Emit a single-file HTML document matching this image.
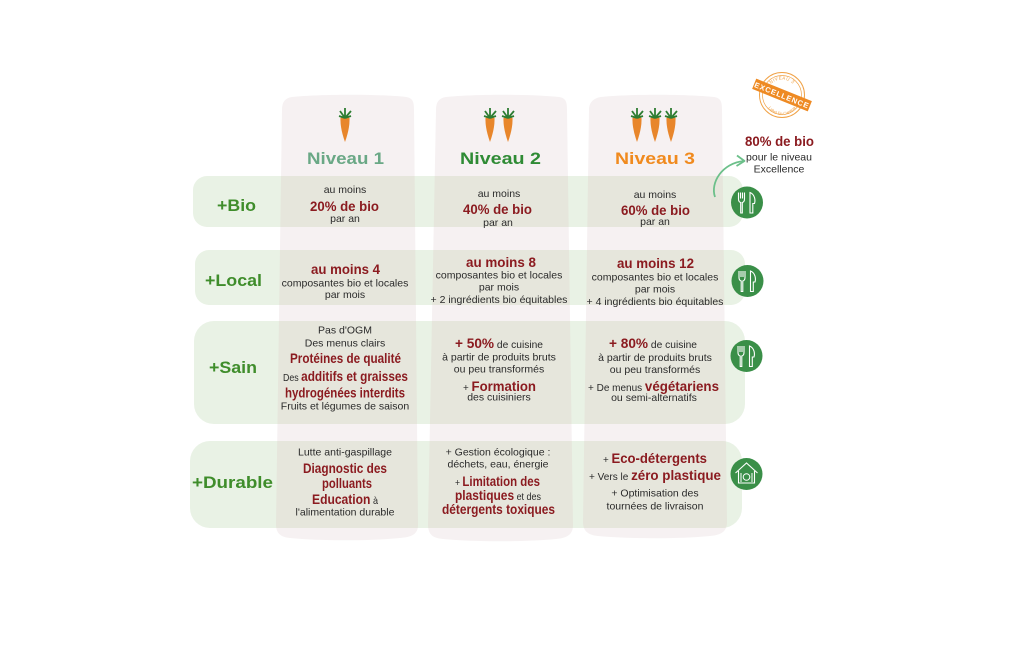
<!DOCTYPE html>
<html><head><meta charset="utf-8"><style>
html,body{margin:0;padding:0;background:#fff;width:1024px;height:650px;overflow:hidden}
svg{display:block}
.s{font-size:10.5px;fill:#2a2a2a;text-anchor:middle}
.r{font-size:14px;font-weight:bold;fill:#8b1b20;text-anchor:middle}
.rt{font-size:14px;font-weight:bold;fill:#8b1b20}
.st{font-size:10.5px;font-weight:normal;fill:#2a2a2a}
.lab{font-size:17px;font-weight:bold;fill:#3f8d2b;text-anchor:middle}
.h{font-size:16.5px;font-weight:bold;text-anchor:middle}
</style></head><body>
<svg width="1024" height="650" viewBox="0 0 1024 650" font-family="'Liberation Sans', Arial, sans-serif">
<defs>
<clipPath id="cols">
<path d="M292 97 C320 94,380 94,406 97 C413 98,414 102,414 110 L418 525 C418 534,412 537,400 538 C370 541,320 541,290 538 C280 537,276 533,276 524 L282 110 C282 102,285 98,292 97Z"/>
<path d="M446 97 C475 94,530 94,559 97 C566 98,567 102,567 110 L573 525 C573 534,568 538,556 539 C525 542,475 542,443 539 C432 538,428 534,428 524 L436 110 C436 102,439 98,446 97Z"/>
<path d="M601 97 C630 94,685 94,714 97 C721 98,722 102,722 110 L727 522 C727 531,722 535,710 536 C680 539,630 539,598 536 C588 535,583 531,583 522 L589 110 C589 102,594 98,601 97Z"/>
</clipPath>
<path id="arcTop" d="M-15.5 0 A15.5 15.5 0 0 1 15.5 0"/>
<path id="arcBot" d="M-17 0 A17 17 0 0 0 17 0"/>
</defs>

<!-- columns -->
<g fill="#f6f1f2">
<path d="M292 97 C320 94,380 94,406 97 C413 98,414 102,414 110 L418 525 C418 534,412 537,400 538 C370 541,320 541,290 538 C280 537,276 533,276 524 L282 110 C282 102,285 98,292 97Z"/>
<path d="M446 97 C475 94,530 94,559 97 C566 98,567 102,567 110 L573 525 C573 534,568 538,556 539 C525 542,475 542,443 539 C432 538,428 534,428 524 L436 110 C436 102,439 98,446 97Z"/>
<path d="M601 97 C630 94,685 94,714 97 C721 98,722 102,722 110 L727 522 C727 531,722 535,710 536 C680 539,630 539,598 536 C588 535,583 531,583 522 L589 110 C589 102,594 98,601 97Z"/>
</g>

<!-- rows -->
<g fill="#e9f2e5">
<rect x="193" y="176" width="550" height="51" rx="14"/>
<rect x="195" y="250" width="550" height="55" rx="14"/>
<rect x="194" y="321" width="551" height="103" rx="20"/>
<rect x="190" y="441" width="552" height="87" rx="20"/>
</g>
<g fill="#e6e6dc" clip-path="url(#cols)">
<rect x="193" y="176" width="550" height="51" rx="14"/>
<rect x="195" y="250" width="550" height="55" rx="14"/>
<rect x="194" y="321" width="551" height="103" rx="20"/>
<rect x="190" y="441" width="552" height="87" rx="20"/>
</g>

<!-- carrots -->
<g>
<g id="c1">
<path d="M340.5 118 Q340 128 345 142 Q350 128 349.5 118 Q345 115 340.5 118Z" fill="#e8862b"/>
<path d="M345 118 L340 111 M345 118 L345 108 M345 118 L351 111 M345 118 L339 116 M345 118 L351 116" stroke="#2e7d32" stroke-width="1.8" fill="none"/>
</g>
<use href="#c1" transform="translate(145,0)"/>
<use href="#c1" transform="translate(163,0)"/>
<use href="#c1" transform="translate(292,0)"/>
<use href="#c1" transform="translate(310,0)"/>
<use href="#c1" transform="translate(326,0)"/>
</g>

<!-- headings -->
<text class="h" x="345.5" y="164" fill="#6aa886" textLength="77" lengthAdjust="spacingAndGlyphs">Niveau 1</text>
<text class="h" x="500.5" y="164" fill="#2f8b35" textLength="81" lengthAdjust="spacingAndGlyphs">Niveau 2</text>
<text class="h" x="655" y="164" fill="#f08a1e" textLength="80" lengthAdjust="spacingAndGlyphs">Niveau 3</text>

<!-- row labels -->
<text class="lab" x="236.5" y="211" textLength="39" lengthAdjust="spacingAndGlyphs">+Bio</text>
<text class="lab" x="233.5" y="286" textLength="57" lengthAdjust="spacingAndGlyphs">+Local</text>
<text class="lab" x="233" y="373" textLength="48" lengthAdjust="spacingAndGlyphs">+Sain</text>
<text class="lab" x="232.5" y="488" textLength="81" lengthAdjust="spacingAndGlyphs">+Durable</text>

<!-- Bio row -->
<text class="s" x="345" y="193">au moins</text>
<text class="r" x="344.5" y="211" textLength="69" lengthAdjust="spacingAndGlyphs">20% de bio</text>
<text class="s" x="345" y="222">par an</text>
<text class="s" x="499" y="197">au moins</text>
<text class="r" x="497.5" y="214" textLength="69" lengthAdjust="spacingAndGlyphs">40% de bio</text>
<text class="s" x="498" y="226">par an</text>
<text class="s" x="655" y="198">au moins</text>
<text class="r" x="655.5" y="215" textLength="69" lengthAdjust="spacingAndGlyphs">60% de bio</text>
<text class="s" x="655" y="225">par an</text>

<!-- Local row -->
<text class="r" x="345.5" y="274" textLength="69" lengthAdjust="spacingAndGlyphs">au moins 4</text>
<text class="s" x="345" y="286.5">composantes bio et locales</text>
<text class="s" x="345" y="298">par mois</text>
<text class="r" x="501" y="267" textLength="70" lengthAdjust="spacingAndGlyphs">au moins 8</text>
<text class="s" x="499" y="278.5">composantes bio et locales</text>
<text class="s" x="499" y="290.5">par mois</text>
<text class="s" x="499" y="303">+ 2 ingrédients bio équitables</text>
<text class="r" x="655.5" y="268" textLength="77" lengthAdjust="spacingAndGlyphs">au moins 12</text>
<text class="s" x="655" y="280.5">composantes bio et locales</text>
<text class="s" x="655" y="292.5">par mois</text>
<text class="s" x="655" y="305">+ 4 ingrédients bio équitables</text>

<!-- Sain row -->
<text class="s" x="345" y="333.5">Pas d'OGM</text>
<text class="s" x="345" y="346.5">Des menus clairs</text>
<text class="r" x="345.5" y="363" textLength="111" lengthAdjust="spacingAndGlyphs">Protéines de qualité</text>
<text class="s" x="345.5" y="381" textLength="125" lengthAdjust="spacingAndGlyphs"><tspan class="st">Des </tspan><tspan class="rt">additifs et graisses</tspan></text>
<text class="r" x="345" y="397.5" textLength="120" lengthAdjust="spacingAndGlyphs">hydrogénées interdits</text>
<text class="s" x="345" y="409.5">Fruits et légumes de saison</text>

<text class="s" x="499" y="348" textLength="88" lengthAdjust="spacingAndGlyphs"><tspan class="rt">+ 50%</tspan><tspan class="st"> de cuisine</tspan></text>
<text class="s" x="499" y="360.5">à partir de produits bruts</text>
<text class="s" x="499" y="372.5">ou peu transformés</text>
<text class="s" x="499.5" y="391" textLength="73" lengthAdjust="spacingAndGlyphs"><tspan class="st">+ </tspan><tspan class="rt">Formation</tspan></text>
<text class="s" x="499" y="400.5">des cuisiniers</text>

<text class="s" x="653" y="348" textLength="88" lengthAdjust="spacingAndGlyphs"><tspan class="rt">+ 80%</tspan><tspan class="st"> de cuisine</tspan></text>
<text class="s" x="655" y="361">à partir de produits bruts</text>
<text class="s" x="655" y="373">ou peu transformés</text>
<text class="s" x="653.5" y="391" textLength="131" lengthAdjust="spacingAndGlyphs"><tspan class="st">+ De menus </tspan><tspan class="rt">végétariens</tspan></text>
<text class="s" x="654" y="401">ou semi-alternatifs</text>

<!-- Durable row -->
<text class="s" x="345" y="455.5">Lutte anti-gaspillage</text>
<text class="r" x="345" y="473" textLength="84" lengthAdjust="spacingAndGlyphs">Diagnostic des</text>
<text class="r" x="347" y="488" textLength="50" lengthAdjust="spacingAndGlyphs">polluants</text>
<text class="s" x="345" y="504" textLength="66" lengthAdjust="spacingAndGlyphs"><tspan class="rt">Education</tspan><tspan class="st"> à</tspan></text>
<text class="s" x="345" y="515.5">l'alimentation durable</text>

<text class="s" x="498" y="455.5">+ Gestion écologique :</text>
<text class="s" x="498" y="467.5">déchets, eau, énergie</text>
<text class="s" x="497.5" y="486" textLength="85" lengthAdjust="spacingAndGlyphs"><tspan class="st">+ </tspan><tspan class="rt">Limitation des</tspan></text>
<text class="s" x="498" y="500" textLength="86" lengthAdjust="spacingAndGlyphs"><tspan class="rt">plastiques</tspan><tspan class="st"> et des</tspan></text>
<text class="r" x="498.5" y="514" textLength="113" lengthAdjust="spacingAndGlyphs">détergents toxiques</text>

<text class="s" x="655" y="463" textLength="104" lengthAdjust="spacingAndGlyphs"><tspan class="st">+ </tspan><tspan class="rt">Eco-détergents</tspan></text>
<text class="s" x="655" y="480" textLength="132" lengthAdjust="spacingAndGlyphs"><tspan class="st">+ Vers le </tspan><tspan class="rt">zéro plastique</tspan></text>
<text class="s" x="655" y="496.5">+ Optimisation des</text>
<text class="s" x="655" y="509.5">tournées de livraison</text>

<!-- icons -->
<g id="ic1" transform="translate(747,202.5)">
<circle r="16" fill="#3a8f48"/>
<path d="M-8.5 -10 V-3.5 Q-8.5 -0.5 -6.3 0 V10.5 H-4.7 V0 Q-2.5 -0.5 -2.5 -3.5 V-10 M-6.5 -10 V-4 M-4.5 -10 V-4" stroke="#fff" stroke-width="1.1" fill="none"/>
<path d="M3 10.5 V-10 C8 -8 8.5 -2 7.5 1 L5.8 1 V10.5 Z" stroke="#fff" stroke-width="1.1" fill="none"/>
</g>
<use href="#ic1" transform="translate(0.5,78.5)"/>
<use href="#ic1" transform="translate(-0.5,153.5)"/>
<g transform="translate(746.5,474)">
<circle r="16" fill="#3a8f48"/>
<path d="M-11 -1 L0 -11 L11 -1" stroke="#fff" stroke-width="1.1" fill="none"/>
<path d="M-8 -3 V9 H8 V-3" stroke="#fff" stroke-width="1.1" fill="none"/>
<circle cx="0" cy="3" r="3.3" stroke="#fff" stroke-width="1" fill="none"/>
<path d="M-5.5 -1 V8 M5.5 -1 V8" stroke="#fff" stroke-width="1" fill="none"/>
</g>

<!-- arrow -->
<path d="M715 197 C710 183,722 163,744 161" stroke="#6cc08a" stroke-width="1.8" fill="none"/>
<path d="M737 155.5 L744.5 161 L736.5 166" stroke="#6cc08a" stroke-width="1.8" fill="none" stroke-linejoin="round"/>

<!-- stamp -->
<g transform="translate(782,95)">
<circle r="22.5" fill="none" stroke="#f0a247" stroke-width="1"/>
<circle r="19.5" fill="none" stroke="#f0a247" stroke-width="0.7"/>
<text font-size="4.5" fill="#f0a247" text-anchor="middle" letter-spacing="0.5"><textPath href="#arcTop" startOffset="50%">NIVEAU 3</textPath></text>
<text font-size="4.2" fill="#f0a247" text-anchor="middle" transform="translate(0,3)"><textPath href="#arcBot" startOffset="50%">Label En Cantine</textPath></text>
<g transform="rotate(22)">
<rect x="-30" y="-5.5" width="60" height="11" fill="#ee8a23"/>
<text y="3" font-size="7.5" fill="#fff" text-anchor="middle" font-weight="bold" letter-spacing="0.8">EXCELLENCE</text>
</g>
</g>

<text class="r" x="779.5" y="146" textLength="69" lengthAdjust="spacingAndGlyphs">80% de bio</text>
<text class="s" x="779" y="160.5" fill="#1f1f1f">pour le niveau</text>
<text class="s" x="779" y="172.5" fill="#1f1f1f">Excellence</text>
</svg>
</body></html>
